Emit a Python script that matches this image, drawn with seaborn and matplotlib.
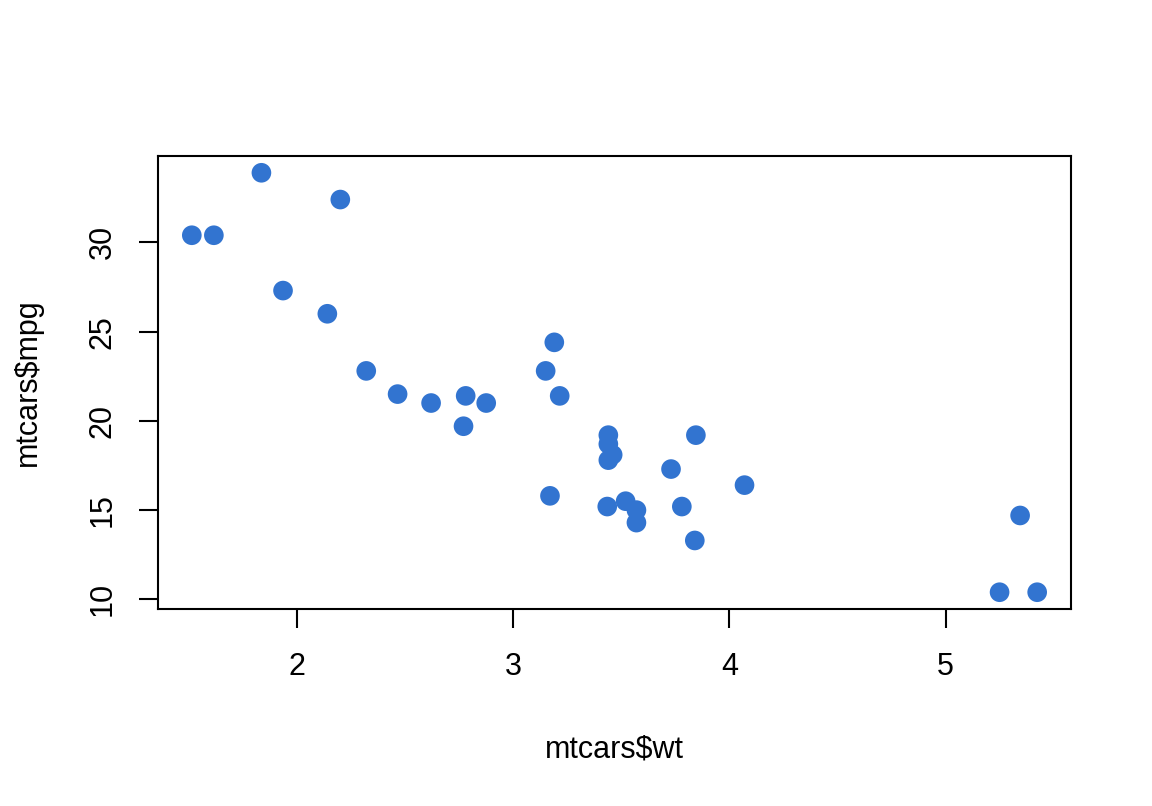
import matplotlib
matplotlib.use("Agg")
import matplotlib.pyplot as plt
import seaborn as sns
import pandas as pd

# mtcars weight and mpg
wt = [2.620, 2.875, 2.320, 3.215, 3.440, 3.460, 3.570, 3.190, 3.150, 3.440,
      3.440, 4.070, 3.730, 3.780, 5.250, 5.424, 5.345, 2.200, 1.615, 1.835,
      2.465, 3.520, 3.435, 3.840, 3.845, 1.935, 2.140, 1.513, 3.170, 2.770,
      3.570, 2.780]
mpg = [21.0, 21.0, 22.8, 21.4, 18.7, 18.1, 14.3, 24.4, 22.8, 19.2,
       17.8, 16.4, 17.3, 15.2, 10.4, 10.4, 14.7, 32.4, 30.4, 33.9,
       21.5, 15.5, 15.2, 13.3, 19.2, 27.3, 26.0, 30.4, 15.8, 19.7,
       15.0, 21.4]
x_ticks = [2, 3, 4, 5]
y_ticks = [10, 15, 20, 25, 30]

df = pd.DataFrame({"wt": wt, "mpg": mpg})

sns.set_style("white", {"text.color": "black", "axes.labelcolor": "black",
                        "xtick.color": "black", "ytick.color": "black",
                        "axes.edgecolor": "black"})
plt.rcParams['font.family'] = ['Liberation Sans', 'DejaVu Sans']

fig = plt.figure(figsize=(11.52, 8.06), dpi=100)
ax = fig.add_axes([158 / 1152, 1 - 609 / 806, (1071 - 158) / 1152, (609 - 156) / 806])

sns.scatterplot(data=df, x="wt", y="mpg", ax=ax, color="#3274d0",
                s=200, linewidth=0, edgecolor="none")

# R-style 4% padding
xr = max(wt) - min(wt)
yr = max(mpg) - min(mpg)
ax.set_xlim(min(wt) - 0.04 * xr, max(wt) + 0.04 * xr)
ax.set_ylim(min(mpg) - 0.04 * yr, max(mpg) + 0.04 * yr)

ax.set_xticks(x_ticks)
ax.set_yticks(y_ticks)
ax.set_xticklabels([str(t) for t in x_ticks], fontsize=22)
ax.set_yticklabels([str(t) for t in y_ticks], fontsize=22, rotation=90, va="center")
ax.tick_params(axis="both", direction="out", length=14, width=1.5, color="black",
               bottom=True, left=True)
ax.tick_params(axis="x", pad=17)
ax.tick_params(axis="y", pad=15)

for sp in ax.spines.values():
    sp.set_visible(True)
    sp.set_color("black")
    sp.set_linewidth(1.5)

ax.set_xlabel("mtcars$wt", fontsize=22, labelpad=38)
ax.set_ylabel("mtcars$mpg", fontsize=22, labelpad=32)

fig.savefig("out.png", dpi=100)
plt.close(fig)
